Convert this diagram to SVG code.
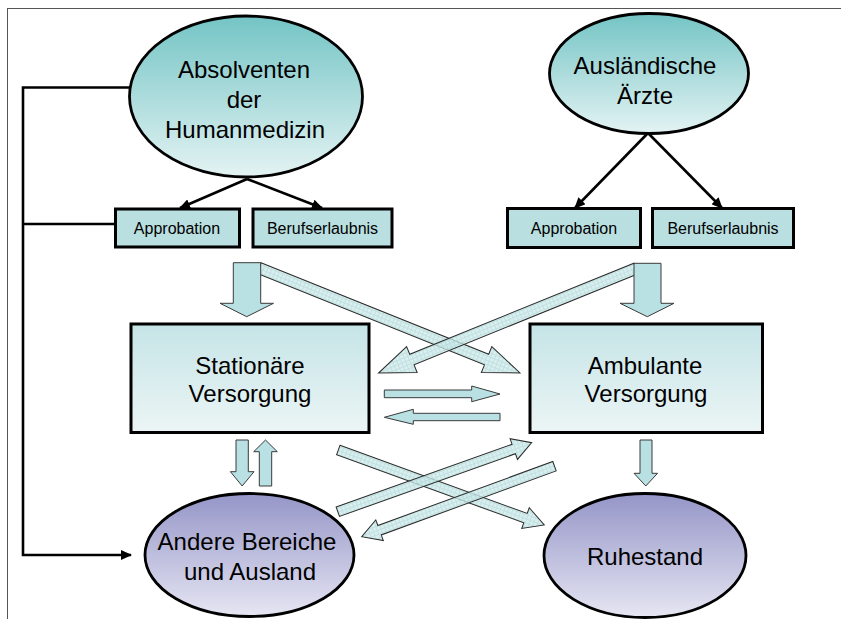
<svg xmlns="http://www.w3.org/2000/svg" width="841" height="619" viewBox="0 0 841 619">
<style>
text{font-family:"Liberation Sans",Arial,sans-serif;fill:#000;text-anchor:middle}
.big{font-size:24px}
.small{font-size:16px}
.ell{stroke:#000;stroke-width:2.8}
.box{stroke:#000;stroke-width:3}
.sbox{fill:#b9dfe0;stroke:#000;stroke-width:3}
.line{fill:none;stroke:#000;stroke-width:2.6}
.blk{fill:#b9e0e2;stroke:#3a3a3a;stroke-width:1}
.hat{fill:url(#hatch);fill-opacity:0.8;stroke:#2a2a2a;stroke-width:1}
</style>
<defs>
<linearGradient id="gTeal" x1="0" y1="0" x2="0" y2="1">
<stop offset="0" stop-color="#74c4c5"/>
<stop offset="1" stop-color="#e4f3f3"/>
</linearGradient>
<linearGradient id="gPurple" x1="0" y1="0" x2="0" y2="1">
<stop offset="0" stop-color="#9595c8"/>
<stop offset="1" stop-color="#e6e6f3"/>
</linearGradient>
<linearGradient id="gBox" x1="0" y1="0" x2="0" y2="1">
<stop offset="0" stop-color="#c5e4e7"/>
<stop offset="1" stop-color="#ecf5f5"/>
</linearGradient>
<pattern id="hatch" width="4" height="4" patternUnits="userSpaceOnUse">
<rect width="4" height="4" fill="#cfeaeb"/>
<path d="M0,0.5H4M0.5,0V4" stroke="#b3d9da" stroke-width="1"/>
</pattern>
<marker id="ah" markerUnits="userSpaceOnUse" markerWidth="12" markerHeight="10" refX="10" refY="5" orient="auto">
<path d="M0,0 L11,5 L0,10 Z" fill="#000"/>
</marker>
</defs>

<g id="frame">
<line x1="7" y1="8.5" x2="841" y2="8.5" stroke="#555" stroke-width="1"/>
<line x1="7.5" y1="8" x2="7.5" y2="619" stroke="#555" stroke-width="1"/>
</g>

<g id="connectors">
<polyline class="line" points="130,87.5 23,87.5 23,555 131,555" marker-end="url(#ah)"/>
<line class="line" x1="23" y1="224" x2="115" y2="224"/>
<line class="line" x1="247" y1="179" x2="180" y2="208" marker-end="url(#ah)"/>
<line class="line" x1="247" y1="179" x2="322" y2="208" marker-end="url(#ah)"/>
<line class="line" x1="648" y1="133" x2="575" y2="208" marker-end="url(#ah)"/>
<line class="line" x1="648" y1="133" x2="722" y2="208" marker-end="url(#ah)"/>

<polygon class="hat" transform="translate(258.9,268) rotate(21.9)" points="0,-5.7 245.4,-5.7 245.4,-14 281.4,0 245.4,14 245.4,5.7 0,5.7"/>
<polygon class="hat" transform="translate(636,268.5) rotate(157.9)" points="0,-5.7 241.9,-5.7 241.9,-14 277.9,0 241.9,14 241.9,5.7 0,5.7"/>

<polygon class="blk" points="233.3,262.7 260.7,262.7 260.7,303.3 273.5,303.3 246.7,316.7 220,303.3 233.3,303.3"/>
<polygon class="blk" points="634,263.3 661,263.3 661,303.3 674,303.3 647.3,316.7 620,303.3 634,303.3"/>

<polygon class="blk" points="384.3,390 471.7,390 471.7,386 500,394 471.7,401.7 471.7,397.7 384.3,397.7"/>
<polygon class="blk" points="500,413.3 413.3,413.3 413.3,409.3 384.3,417.3 413.3,424.3 413.3,420.7 500,420.7"/>

<polygon class="blk" points="236,440 248.3,440 248.3,471.7 254,471.7 242.2,486 230.4,471.7 236,471.7"/>
<polygon class="blk" points="259.3,486 271.7,486 271.7,451.7 277.3,451.7 265.5,440 253.7,451.7 259.3,451.7"/>
<polygon class="blk" points="640,440 652,440 652,473.3 657.5,473.3 645.8,486 634,473.3 640,473.3"/>

<polygon class="hat" transform="translate(338.3,450) rotate(20)" points="0,-5 199.2,-5 199.2,-11 219.2,0 199.2,11 199.2,5 0,5"/>
<polygon class="hat" transform="translate(337.8,511.7) rotate(-19.6)" points="0,-5 186.8,-5 186.8,-11 205.8,0 186.8,11 186.8,5 0,5"/>
<polygon class="hat" transform="translate(554.5,466.2) rotate(159.9)" points="0,-5 186.3,-5 186.3,-11 205.3,0 186.3,11 186.3,5 0,5"/>
</g>

<g id="absolventen">
<ellipse class="ell" cx="246" cy="96.5" rx="116.5" ry="80.5" fill="url(#gTeal)"/>
<text class="big" x="244" y="78">Absolventen</text>
<text class="big" x="244" y="108">der</text>
<text class="big" x="245" y="138">Humanmedizin</text>
</g>

<g id="auslaendische">
<ellipse class="ell" cx="649" cy="73.5" rx="99.5" ry="60" fill="url(#gTeal)"/>
<text class="big" x="645" y="74">Ausländische</text>
<text class="big" x="645" y="104">Ärzte</text>
</g>

<g id="approbation1">
<rect class="sbox" x="115.5" y="209" width="124" height="38"/>
<text class="small" x="177" y="234">Approbation</text>
</g>
<g id="berufserlaubnis1">
<rect class="sbox" x="253" y="209" width="139" height="38"/>
<text class="small" x="322.5" y="234">Berufserlaubnis</text>
</g>
<g id="approbation2">
<rect class="sbox" x="507.5" y="208.5" width="133" height="39"/>
<text class="small" x="574" y="234.3">Approbation</text>
</g>
<g id="berufserlaubnis2">
<rect class="sbox" x="652.5" y="208.5" width="141" height="39"/>
<text class="small" x="723" y="234.3">Berufserlaubnis</text>
</g>

<g id="stationaer">
<rect class="box" x="131" y="324" width="238" height="108.5" fill="url(#gBox)"/>
<text class="big" x="250" y="374">Stationäre</text>
<text class="big" x="250" y="402">Versorgung</text>
</g>
<g id="ambulant">
<rect class="box" x="530" y="324" width="232.5" height="108.5" fill="url(#gBox)"/>
<text class="big" x="645" y="373.5">Ambulante</text>
<text class="big" x="646" y="402">Versorgung</text>
</g>

<g id="andere">
<ellipse class="ell" cx="249.5" cy="555" rx="104.5" ry="61.5" fill="url(#gPurple)"/>
<text class="big" x="247" y="549.5">Andere Bereiche</text>
<text class="big" x="250" y="580">und Ausland</text>
</g>
<g id="ruhestand">
<ellipse class="ell" cx="645" cy="555.5" rx="101" ry="62" fill="url(#gPurple)"/>
<text class="big" x="645" y="565">Ruhestand</text>
</g>
</svg>
